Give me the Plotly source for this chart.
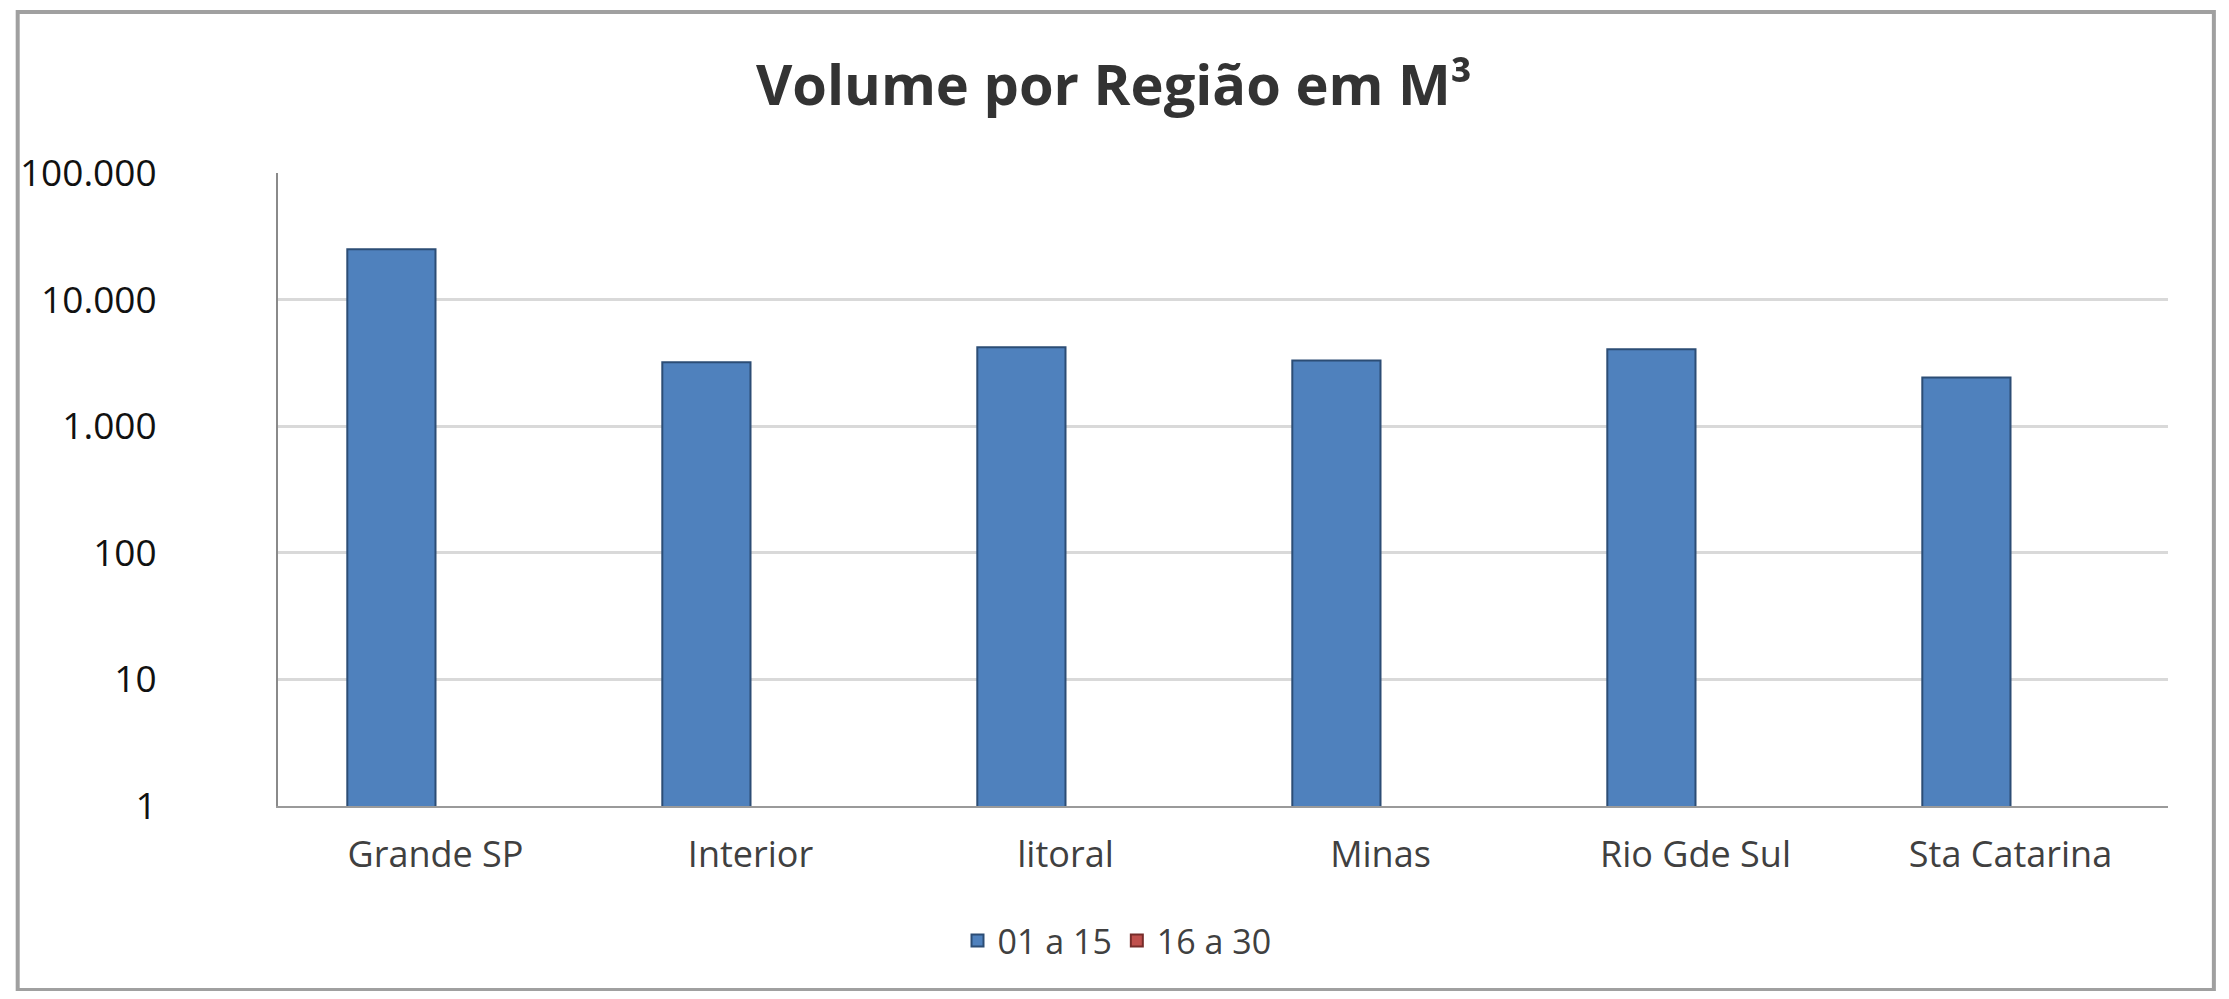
import plotly.graph_objects as go

regioes = ["Grande SP", "Interior", "litoral", "Minas", "Rio Gde Sul", "Sta Catarina"]
vol_01_15 = [25000, 3200, 4200, 3300, 4050, 2420]
vol_16_30 = [None, None, None, None, None, None]

tick_vals = [1, 10, 100, 1000, 10000, 100000]
tick_text = ["1", "10", "100", "1.000", "10.000", "100.000"]

# page body keeps an 8px margin, so the figure is drawn 8px in from the corner
OFF = 8
W, H = 2229 - 2 * OFF, 999 - 2 * OFF
M = {"l": 273 - OFF, "r": 2229 - 2168 - OFF, "t": 173 - OFF, "b": 999 - 806 - OFF}
pw = W - M["l"] - M["r"]
ph = H - M["t"] - M["b"]

fig = go.Figure()
fig.add_trace(go.Bar(
    name="01 a 15", x=regioes, y=vol_01_15,
    marker={"color": "#4F81BD", "line": {"color": "#2C4D75", "width": 2}},
))
fig.add_trace(go.Bar(
    name="16 a 30", x=regioes, y=vol_16_30,
    marker={"color": "#C0504D", "line": {"color": "#772C2A", "width": 2}},
))

# outer chart frame, like the Excel chart area border (page px -> paper fractions)
fx0, fx1, fy0, fy1 = 12, 2214, 12, 990
fig.add_shape(
    type="rect", xref="paper", yref="paper",
    x0=(fx0 - OFF - M["l"]) / pw, x1=(fx1 - OFF - M["l"]) / pw,
    y0=(H - M["b"] - (fy1 - OFF)) / ph, y1=(H - M["b"] - (fy0 - OFF)) / ph,
    line={"color": "#A0A0A0", "width": 4},
)

fig.update_layout(
    width=W, height=H,
    margin=M,
    paper_bgcolor="#ffffff",
    plot_bgcolor="#ffffff",
    barmode="group",
    bargap=0.44,
    bargroupgap=0,
    font={"family": "Open Sans, sans-serif", "color": "#404040"},
    title={
        "text": "<b>Volume por Região em M³</b>",
        "x": (1114 - OFF) / W, "xref": "container", "xanchor": "center",
        "y": 1 - (85 - OFF) / H, "yanchor": "middle",
        "font": {"size": 56, "color": "#333333", "family": "Open Sans, sans-serif"},
    },
    showlegend=True,
    legend={
        "orientation": "h", "xref": "container", "x": (1117 - OFF) / W, "xanchor": "center",
        "yref": "container", "y": 1 - (941 - OFF) / H, "yanchor": "middle",
        "font": {"size": 34, "color": "#404040"},
        "itemwidth": 30,
    },
    xaxis={
        "showline": True, "linecolor": "#9a9a9a", "linewidth": 2,
        "tickfont": {"size": 36, "color": "#404040"},
        "ticks": "", "ticklabelstandoff": 16,
    },
    yaxis={
        "type": "log", "range": [0, 5],
        "tickvals": tick_vals, "ticktext": tick_text,
        "tickfont": {"size": 37, "color": "#111111"},
        "showline": True, "linecolor": "#8a8a8a", "linewidth": 2,
        "gridcolor": "#D9D9D9", "gridwidth": 3,
        "ticks": "", "ticklabelstandoff": 112,
        "zeroline": False,
    },
)

fig.write_html("out.html")
